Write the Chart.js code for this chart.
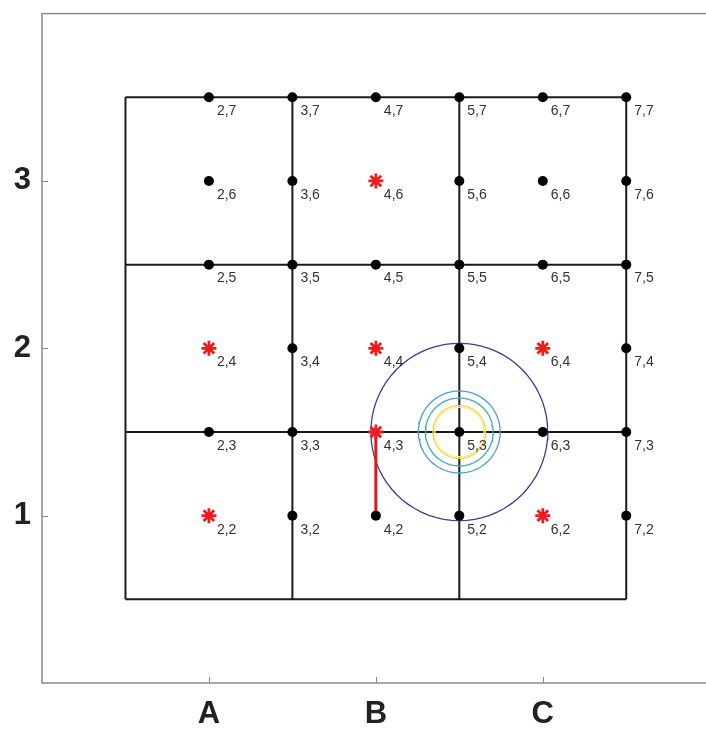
<!DOCTYPE html>
<html>
<head>
<meta charset="utf-8">
<script src="https://cdn.jsdelivr.net/npm/chart.js@4"></script>
<style>
  html, body { margin: 0; padding: 0; background: #fff; overflow: hidden; }
  #wrap { position: absolute; left: 0; top: 0; width: 706px; height: 734px; overflow: hidden; }
  #myChart { position: absolute; left: 0; top: -16px; }
</style>
</head>
<body>
<div id="wrap"><canvas id="myChart" width="720" height="750"></canvas></div>
<script>
// axis ticks
const xTickValues = [1, 2, 3];
const xTickLabels = ["A", "B", "C"];
const yTickValues = [1, 2, 3];
const yTickLabels = ["1", "2", "3"];

// mesh lines
const gridLinesX = [0.5, 1.5, 2.5, 3.5];
const gridLinesY = [0.5, 1.5, 2.5, 3.5];

// nodes: column index -> x, row index -> y
const colIdx = [2, 3, 4, 5, 6, 7];
const colX = [1, 1.5, 2, 2.5, 3, 3.5];
const rowIdx = [2, 3, 4, 5, 6, 7];
const rowY = [1, 1.5, 2, 2.5, 3, 3.5];
const starNodes = ["2,2", "2,4", "4,4", "4,6", "6,4", "6,2", "4,3"];

// red segment
const segX = [2, 2];
const segY = [1, 1.5];

// contour rings around node 5,3
const contourCenter = [2.5, 1.5];
const contourRadii = [0.53, 0.245, 0.203, 0.158, 0.148];
const contourColors = ["#3b3f8f", "#4a9fd6", "#3bb0b0", "#eed84a", "#f6eda8"];

const dots = [];
const stars = [];
const nodeLabels = [];
colIdx.forEach((ci, a) => {
  rowIdx.forEach((ri, b) => {
    const name = ci + "," + ri;
    const p = { x: colX[a], y: rowY[b] };
    if (starNodes.includes(name)) stars.push(p); else dots.push(p);
    nodeLabels.push({ x: p.x, y: p.y, text: name });
  });
});

const datasets = [];

gridLinesX.forEach((gx) => {
  datasets.push({
    data: [{ x: gx, y: gridLinesY[0] }, { x: gx, y: gridLinesY[gridLinesY.length - 1] }],
    borderColor: "#1a1a1a", borderWidth: 2, pointRadius: 0, showLine: true, order: 5
  });
});
gridLinesY.forEach((gy) => {
  datasets.push({
    data: [{ x: gridLinesX[0], y: gy }, { x: gridLinesX[gridLinesX.length - 1], y: gy }],
    borderColor: "#1a1a1a", borderWidth: 2, pointRadius: 0, showLine: true, order: 5
  });
});

// ring outlines
contourRadii.forEach((r, k) => {
  const pts = [];
  for (let a = 0; a <= 72; a++) {
    const t = (a / 72) * Math.PI * 2;
    pts.push({ x: contourCenter[0] + r * Math.cos(t), y: contourCenter[1] + r * Math.sin(t) });
  }
  datasets.push({
    data: pts, borderColor: contourColors[k], borderWidth: 1.3, pointRadius: 0,
    showLine: true, tension: 0, order: 4
  });
});

datasets.push({
  data: segX.map((x, i) => ({ x: x, y: segY[i] })),
  borderColor: "#e8141a", borderWidth: 3, pointRadius: 0, showLine: true, order: 3
});

datasets.push({
  data: dots, pointRadius: 5, pointBackgroundColor: "#000", pointBorderColor: "#000",
  pointBorderWidth: 0, showLine: false, order: 1
});
datasets.push({
  data: stars, pointStyle: "star", pointRadius: 7.5, pointBorderColor: "#ee1c1c",
  pointBackgroundColor: "#ee1c1c", pointBorderWidth: 2.8, showLine: false, order: 0
});

const framePlugin = {
  id: "frame",
  beforeDatasetsDraw(chart) {
    const { ctx, chartArea: ca, scales } = chart;
    ctx.save();
    ctx.strokeStyle = "#8a8a8a";
    ctx.lineWidth = 1.5;
    ctx.strokeRect(ca.left, ca.top, ca.right - ca.left, ca.bottom - ca.top);
    ctx.lineWidth = 1;
    xTickValues.forEach((v) => {
      const px = Math.round(scales.x.getPixelForValue(v)) + 0.5;
      ctx.beginPath(); ctx.moveTo(px, ca.bottom); ctx.lineTo(px, ca.bottom - 6); ctx.stroke();
    });
    yTickValues.forEach((v) => {
      const py = Math.round(scales.y.getPixelForValue(v)) + 0.5;
      ctx.beginPath(); ctx.moveTo(ca.left, py); ctx.lineTo(ca.left + 6, py); ctx.stroke();
    });
    ctx.restore();
  },
  afterDatasetsDraw(chart) {
    const { ctx, scales } = chart;
    ctx.save();
    ctx.fillStyle = "#333";
    ctx.font = "14px 'Liberation Sans', Arial, sans-serif";
    ctx.textAlign = "left";
    ctx.textBaseline = "middle";
    nodeLabels.forEach((l) => {
      const px = scales.x.getPixelForValue(l.x);
      const py = scales.y.getPixelForValue(l.y);
      ctx.fillText(l.text, px + 8, py + 14);
    });
    ctx.restore();
  }
};

window.addEventListener("load", function () {
  const config = {
    type: "scatter",
    data: { datasets },
    options: {
      responsive: false,
      devicePixelRatio: 1,
      animation: false,
      layout: { padding: { top: 13, right: 8, left: 0, bottom: 0 } },
      plugins: { legend: { display: false }, tooltip: { enabled: false } },
      scales: {
        x: {
          type: "linear", min: 0, max: 4,
          afterFit: (s) => { s.height = 51; },
          afterBuildTicks: (s) => { s.ticks = xTickValues.map((v) => ({ value: v })); },
          ticks: {
            padding: 13, color: "#222",
            font: { family: "'Liberation Sans', Arial, sans-serif", size: 31, weight: "bold" },
            callback: (v) => xTickLabels[xTickValues.indexOf(v)]
          },
          grid: { display: false, drawTicks: false, tickLength: 0 },
          border: { display: false }
        },
        y: {
          type: "linear", min: 0, max: 4,
          afterFit: (s) => { s.width = 42; },
          afterBuildTicks: (s) => { s.ticks = yTickValues.map((v) => ({ value: v })); },
          ticks: {
            padding: 11, color: "#222",
            font: { family: "'Liberation Sans', Arial, sans-serif", size: 31, weight: "bold" },
            callback: (v) => yTickLabels[yTickValues.indexOf(v)]
          },
          grid: { display: false, drawTicks: false, tickLength: 0 },
          border: { display: false }
        }
      }
    },
    plugins: [framePlugin]
  };
  new Chart(document.getElementById("myChart"), config);
});
</script>
</body>
</html>
